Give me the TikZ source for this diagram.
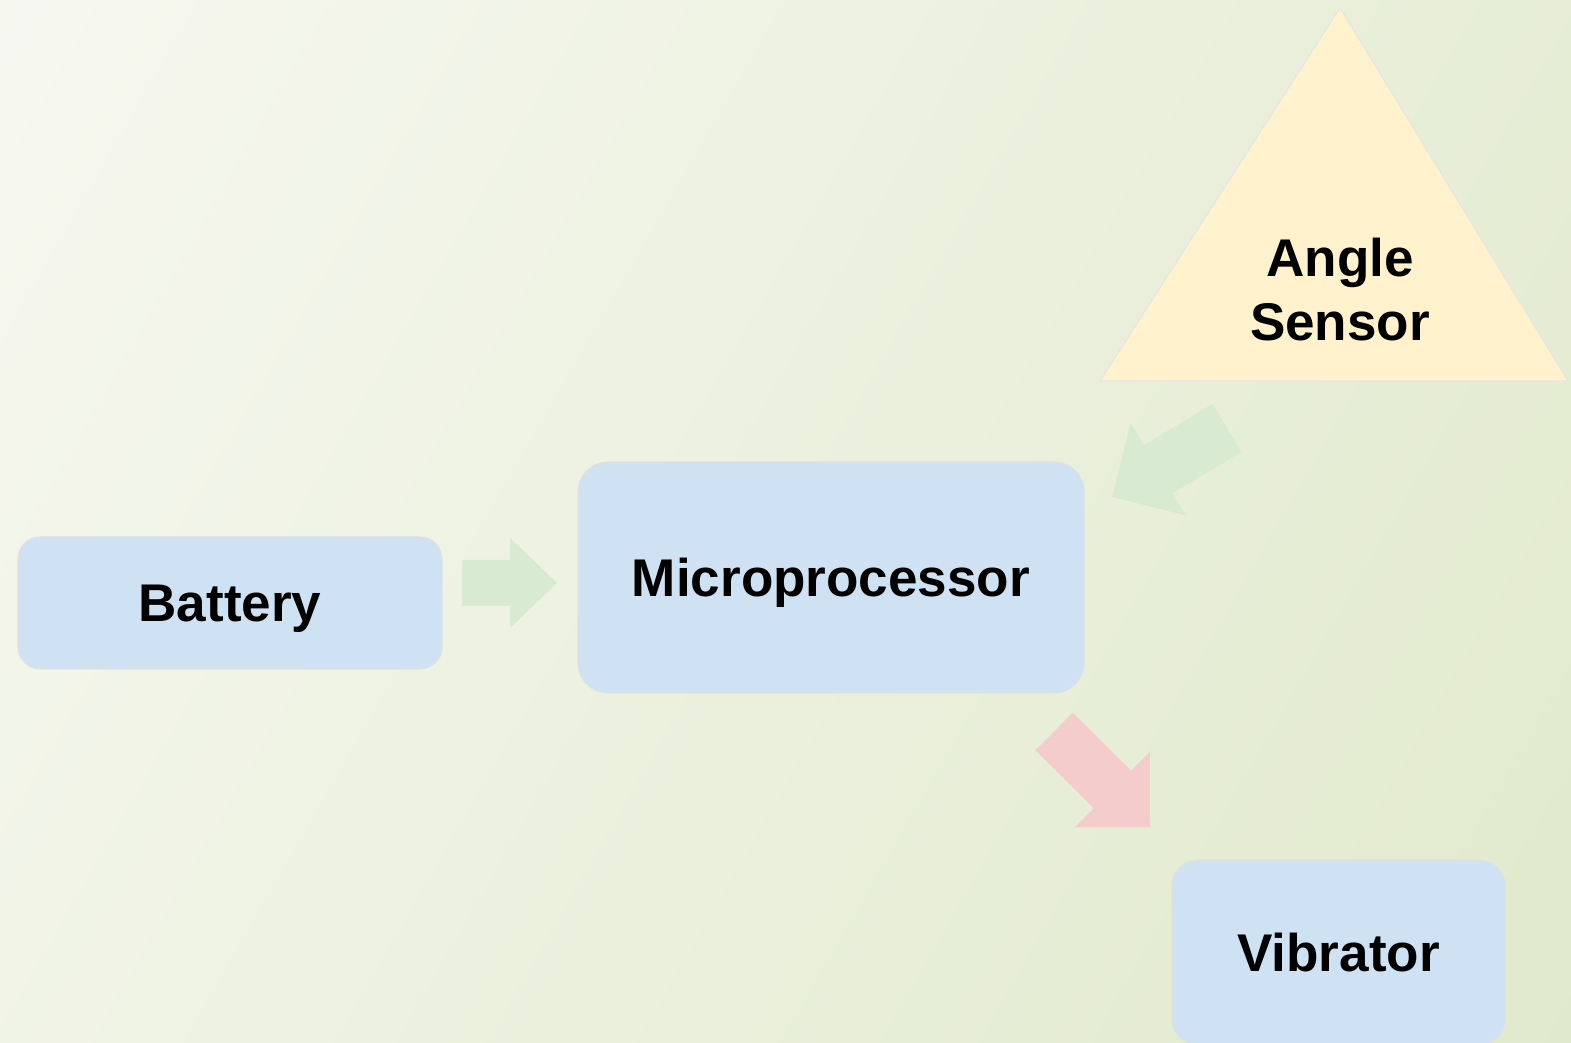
\documentclass[tikz,border=0pt]{standalone}
\usepackage{fontspec}
\setmainfont{Liberation Sans}
\usetikzlibrary{calc}
\definecolor{bgleft}{HTML}{F7F8F1}
\definecolor{bgmid}{HTML}{EDF2E1}
\definecolor{bgright}{HTML}{E0E9CB}
\definecolor{partblue}{HTML}{CFE2F3}
\definecolor{sensoryellow}{HTML}{FFF2CC}
\definecolor{flowgreen}{HTML}{D9EAD3}
\definecolor{flowred}{HTML}{F4CCCC}
% block arrow: [style](tail)(tip)(shaft half width:head half width:head length)
\def\blockarrow[#1](#2)(#3)(#4:#5:#6){%
	\path ($(#3)!#6!(#2)$) coordinate (hb);
	\fill[#1] ($(#2)!#4!90:(#3)$) -- ($(hb)!#4!90:(#3)$) -- ($(hb)!#5!90:(#3)$) -- (#3)
		-- ($(hb)!#5!-90:(#3)$) -- ($(hb)!#4!-90:(#3)$) -- ($(#2)!#4!-90:(#3)$) -- cycle;}
\tikzset{
	part/.style={rectangle, fill=partblue, draw=black!12, line width=0.3pt, inner sep=0pt,
		text depth=0pt, font=\bfseries\fontsize{15.1}{18.2}\selectfont},
	caption/.style={align=center, font=\bfseries\fontsize{15.1}{18.2}\selectfont}
}

\begin{document}
\begin{tikzpicture}
				\path[use as bounding box, clip] (0, 0) rectangle (15.71, 10.42);
				\shade[left color=bgleft, middle color=bgmid, right color=bgright, shading angle=60] (-3, -3) rectangle (18.71, 13.42);
				
				\node[part, rounded corners=0.22cm, minimum width=4.24cm, minimum height=1.32cm] (battery) at (2.30, 4.39) {Battery};
				\node[part, rounded corners=0.30cm, minimum width=5.06cm, minimum height=2.31cm] (micro) at (8.31, 4.645) {Microprocessor};
				\node[part, rounded corners=0.26cm, minimum width=3.33cm, minimum height=1.85cm] (vibrator) at (13.385, 0.895) {Vibrator};
				
				\coordinate (apex) at (13.40, 10.34);
				\coordinate (baseL) at (11.00, 6.61);
				\coordinate (baseR) at (15.68, 6.61);
				\draw[fill=sensoryellow, draw=black!10, line width=0.3pt] (apex) -- (baseR) -- (baseL) -- cycle;
				\node[caption] (sensor) at (13.40, 7.52) {Angle\\Sensor};
				
				\coordinate (batt-tail) at (4.62, 4.59);
				\coordinate (batt-tip) at (5.57, 4.59);
				\blockarrow[flowgreen](batt-tail)(batt-tip)(0.23cm:0.45cm:0.47cm)
				
				\coordinate (sens-tail) at (12.27, 6.14);
				\coordinate (sens-tip) at (11.12, 5.45);
				\blockarrow[flowgreen](sens-tail)(sens-tip)(0.28cm:0.54cm:0.54cm)
				
				\coordinate (vib-tail) at (10.54, 3.105);
				\coordinate (vib-tip) at (11.50, 2.15);
				\blockarrow[flowred](vib-tail)(vib-tip)(0.265cm:0.53cm:0.53cm)
			\end{tikzpicture}
\end{document}
